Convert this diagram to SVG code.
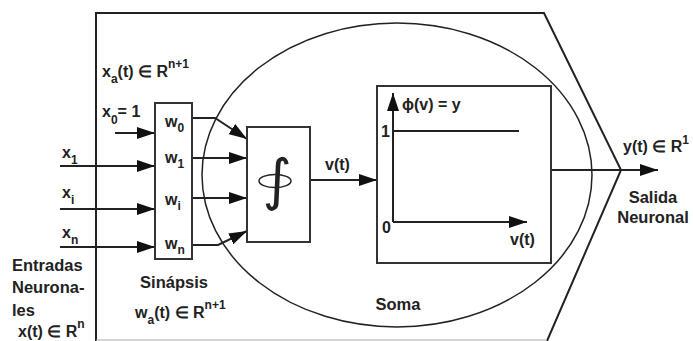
<svg xmlns="http://www.w3.org/2000/svg" width="693" height="341" viewBox="0 0 693 341">
<style>
text{font-family:"Liberation Sans",Arial,sans-serif;font-size:16px;font-weight:bold;fill:#222}
.w{font-size:16.5px}
.s{font-size:12px}
.ln{stroke:#222;stroke-width:2;fill:none}
.th{stroke:#222;stroke-width:1.5;fill:none}
.box{stroke:#333;stroke-width:2;fill:#fff}
</style>
<defs>
<marker id="ah" markerUnits="userSpaceOnUse" markerWidth="18" markerHeight="12" refX="18" refY="6" orient="auto">
<path d="M0,0 L18,6 L0,12 z" fill="#111"/>
</marker>
</defs>
<rect width="693" height="341" fill="#fff"/>
<g id="neuron-body">
<path class="ln" d="M96,341 V13 H544 L621,170 L547,341"/>
<line x1="96" y1="340" x2="547" y2="340" stroke="#aaa" stroke-width="1"/>
</g>
<g id="soma">
<ellipse cx="397" cy="175" rx="195" ry="152" class="th"/>
<text class="w" x="398" y="310" text-anchor="middle">Soma</text>
</g>
<g id="connectors">
<line class="ln" x1="115" y1="133" x2="155" y2="133" marker-end="url(#ah)"/>
<line class="ln" x1="60" y1="166" x2="155" y2="166" marker-end="url(#ah)"/>
<line class="ln" x1="60" y1="209" x2="155" y2="209" marker-end="url(#ah)"/>
<line class="ln" x1="60" y1="247" x2="155" y2="247" marker-end="url(#ah)"/>
<polyline class="ln" points="192,118 215,118 247,139" marker-end="url(#ah)"/>
<line class="ln" x1="192" y1="158" x2="247" y2="158" marker-end="url(#ah)"/>
<line class="ln" x1="192" y1="198" x2="247" y2="198" marker-end="url(#ah)"/>
<polyline class="ln" points="192,245 218,245 247,231" marker-end="url(#ah)"/>
<line class="ln" x1="310" y1="180" x2="377" y2="180" marker-end="url(#ah)"/>
<line class="ln" x1="551" y1="170" x2="658" y2="170" marker-end="url(#ah)"/>
</g>
<g id="inputs">
<text x="62" y="158">x<tspan class="s" dy="6">1</tspan></text>
<text x="62" y="198">x<tspan class="s" dy="6">i</tspan></text>
<text x="62" y="238">x<tspan class="s" dy="6">n</tspan></text>
<text x="102" y="77">x<tspan class="s" dy="6">a</tspan><tspan dy="-6">(t) ∈ R</tspan><tspan class="s" dy="-9">n+1</tspan></text>
<text x="102" y="117">x<tspan class="s" dy="7">0</tspan><tspan dy="-7">= 1</tspan></text>
<text class="w" x="12" y="271">Entradas</text>
<text class="w" x="12" y="293">Neurona-</text>
<text class="w" x="12" y="316">les</text>
<text x="18" y="337">x(t) ∈ R<tspan class="s" dy="-9">n</tspan></text>
</g>
<g id="synapse">
<rect class="box" x="155" y="103" width="37" height="156"/>
<text x="165" y="127">w<tspan class="s" dy="5">0</tspan></text>
<text x="165" y="163">w<tspan class="s" dy="5">1</tspan></text>
<text x="165" y="205">w<tspan class="s" dy="5">i</tspan></text>
<text x="165" y="249">w<tspan class="s" dy="5">n</tspan></text>
<text class="w" x="174" y="288" text-anchor="middle">Sinápsis</text>
<text x="135" y="318">w<tspan class="s" dy="6">a</tspan><tspan dy="-6">(t) ∈ R</tspan><tspan class="s" dy="-9">n+1</tspan></text>
</g>
<g id="integrator">
<rect class="box" x="247" y="127" width="63" height="115"/>
<ellipse cx="275" cy="181" rx="16" ry="6.5" class="th"/>
<text x="277" y="199" text-anchor="middle" style="font-family:'DejaVu Sans',sans-serif;font-size:56px;font-weight:normal">∫</text>
<text x="325" y="170">v(t)</text>
</g>
<g id="activation">
<rect class="box" x="377" y="86" width="174" height="177"/>
<line class="ln" x1="393" y1="222" x2="393" y2="93" marker-end="url(#ah)"/>
<line class="ln" x1="393" y1="222" x2="527" y2="222" marker-end="url(#ah)"/>
<line class="ln" x1="393" y1="131" x2="519" y2="131"/>
<text x="402" y="110">ϕ(v) = y</text>
<text x="381" y="137">1</text>
<text x="382" y="233">0</text>
<text x="510" y="245">v(t)</text>
</g>
<g id="output">
<text x="623" y="152">y(t) ∈ R<tspan class="s" dy="-8">1</tspan></text>
<text class="w" x="653" y="203" text-anchor="middle">Salida</text>
<text class="w" x="653" y="223" text-anchor="middle">Neuronal</text>
</g>
</svg>
